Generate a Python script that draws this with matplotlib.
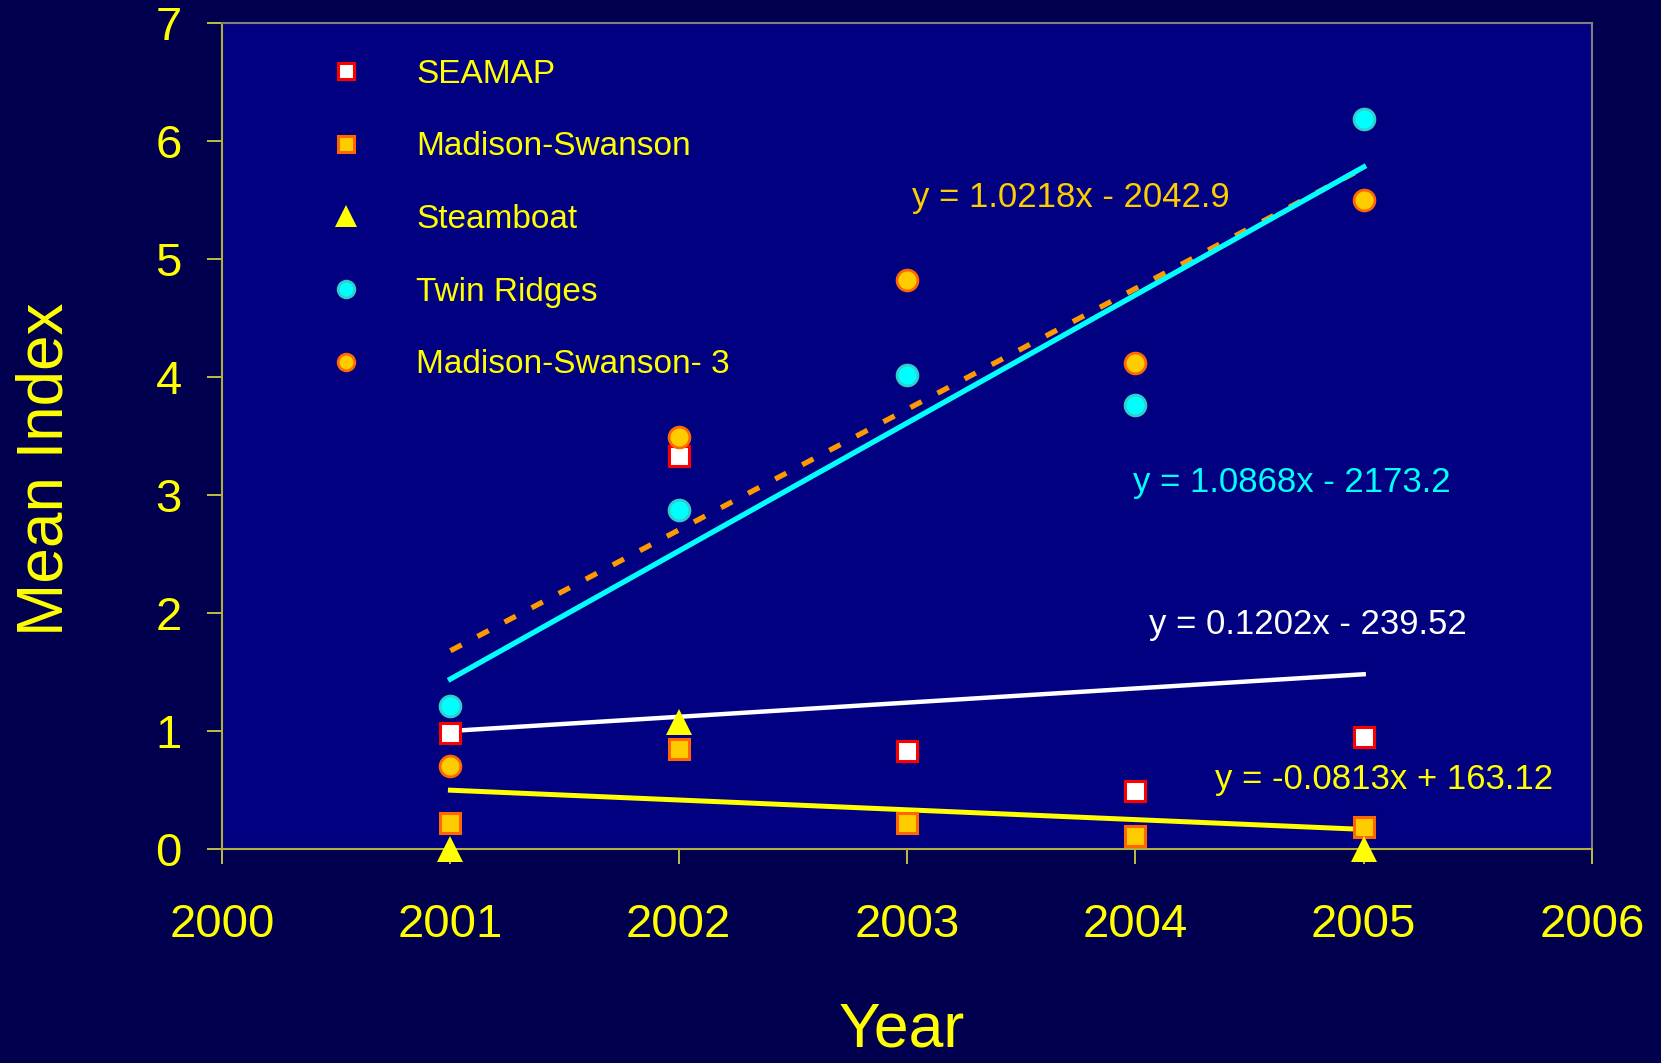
import numpy as np
import matplotlib
matplotlib.use("Agg")
import matplotlib.pyplot as plt

plt.rcParams['font.family'] = ['Liberation Sans', 'DejaVu Sans']

years = [2001, 2002, 2003, 2004, 2005]
seamap = [0.98, 3.33, 0.83, 0.49, 0.95]
madison_swanson = [0.22, 0.85, 0.22, 0.11, 0.19]
steamboat_years = [2001, 2002, 2005]
steamboat = [0.0, 1.08, 0.0]
twin_ridges = [1.21, 2.87, 4.02, 3.76, 6.19]
madison_swanson_3 = [0.70, 3.49, 4.82, 4.12, 5.50]

# trendline equations as printed on the chart
white_slope, white_intercept = 0.1202, -239.52
eq_twin = "y = 1.0868x - 2173.2"
eq_ms3 = "y = 1.0218x - 2042.9"
eq_white = "y = 0.1202x - 239.52"
eq_steam = "y = -0.0813x + 163.12"

gold = '#FFCC00'
dark_orange = '#FF6600'

fig = plt.figure(figsize=(16.61, 10.63), dpi=100, facecolor='#00004f')
ax = fig.add_axes([0.1337, 0.2013, 0.8248, 0.7771])
ax.set_facecolor('#000080')

x = np.array(years, dtype=float)
trend_x = np.array([2001, 2005], dtype=float)

# trendlines
p = np.polyfit(x, madison_swanson_3, 1)
ax.plot(trend_x, np.polyval(p, trend_x), color='#FF9900', lw=3.8,
        dashes=(2.4, 3.4), dash_capstyle='butt', zorder=2)
p = np.polyfit(x, twin_ridges, 1)
ax.plot(trend_x, np.polyval(p, trend_x), color='#00FFFF', lw=3.8, zorder=2)
ax.plot(trend_x, white_slope * trend_x + white_intercept, color='white', lw=3.2, zorder=2)
p = np.polyfit(steamboat_years, steamboat, 1)
ax.plot(trend_x, np.polyval(p, trend_x), color='#FFFF00', lw=3.6, zorder=2)

# data points
ax.plot(years, seamap, 's', ms=14, mfc='white', mec='#FF0000', mew=2.2,
        label='SEAMAP', zorder=3)
ax.plot(years, madison_swanson, 's', ms=14, mfc=gold, mec=dark_orange, mew=2.2,
        label='Madison-Swanson', zorder=3)
ax.plot(steamboat_years, steamboat, '^', ms=19, mfc='#FFFF00', mec='#FFFF00', mew=0,
        label='Steamboat', zorder=4, clip_on=False)
ax.plot(years, twin_ridges, 'o', ms=15, mfc='#00FFFF', mec='#33CCCC', mew=2,
        label='Twin Ridges', zorder=3)
ax.plot(years, madison_swanson_3, 'o', ms=15, mfc=gold, mec=dark_orange, mew=2,
        label='Madison-Swanson- 3', zorder=3)

# equation labels
ax.text(2003.02, 5.52, eq_ms3, color=gold, fontsize=25, va='center', ha='left')
ax.text(2003.99, 3.11, eq_twin, color='#00FFFF', fontsize=25, va='center', ha='left')
ax.text(2004.06, 1.90, eq_white, color='white', fontsize=25, va='center', ha='left')
ax.text(2004.35, 0.59, eq_steam, color='#FFFF00', fontsize=25, va='center', ha='left')

ax.set_xlim(2000, 2006)
ax.set_ylim(0, 7)
ax.set_xticks(range(2000, 2007))
ax.set_yticks(range(0, 8))

ax.tick_params(axis='both', colors='#E0E040', labelcolor='#FFFF00', labelsize=34,
               length=11, width=1.2, direction='out')
ax.tick_params(axis='x', pad=28)
ax.tick_params(axis='y', pad=18)

for side in ['left', 'bottom']:
    ax.spines[side].set_color('#B0B040')
    ax.spines[side].set_linewidth(1.5)
for side in ['top', 'right']:
    ax.spines[side].set_color('#808080')
    ax.spines[side].set_linewidth(1.5)

ax.set_xlabel('Year', color='#FFFF00', fontsize=45)
ax.set_ylabel('Mean Index', color='#FFFF00', fontsize=46)
ax.xaxis.set_label_coords(0.496, -0.183)
ax.yaxis.set_label_coords(-0.107, 0.46)

leg = ax.legend(loc='upper left', bbox_to_anchor=(0.0565, 0.993), frameon=False,
                fontsize=24, labelspacing=1.25, handletextpad=1.6,
                markerscale=0.8, handlelength=1.0)
for t in leg.get_texts():
    t.set_color('#FFFF00')

fig.savefig('out.png', dpi=100, facecolor=fig.get_facecolor())
